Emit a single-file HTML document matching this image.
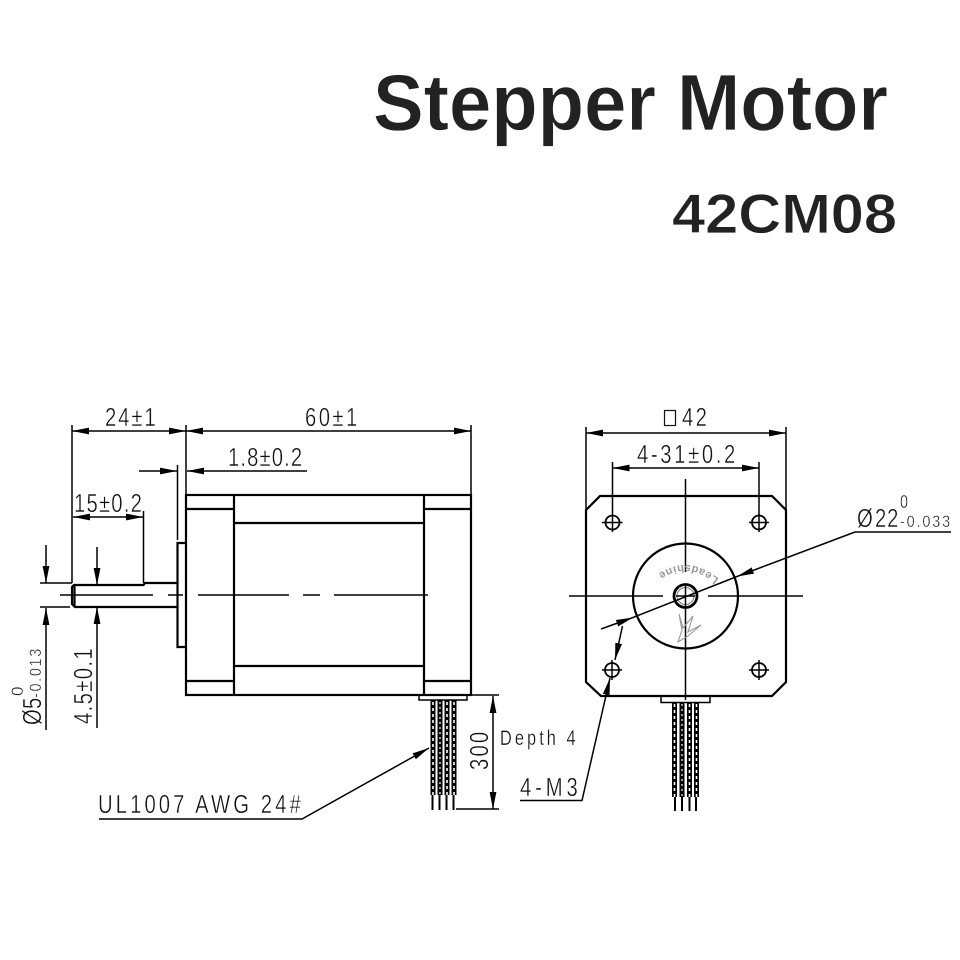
<!DOCTYPE html>
<html><head><meta charset="utf-8"><style>
html,body{margin:0;padding:0;background:#fff;width:960px;height:960px;overflow:hidden}
svg{display:block}
.t{font-family:"Liberation Sans",sans-serif;fill:#111;stroke:#fff;stroke-width:.4}
.h{font-family:"Liberation Sans",sans-serif;font-weight:bold;fill:#222;stroke:#fff;stroke-width:.7}
</style></head><body>
<svg width="960" height="960" viewBox="0 0 960 960" xmlns="http://www.w3.org/2000/svg">
<defs>
<marker id="a" markerUnits="userSpaceOnUse" markerWidth="18" markerHeight="8" refX="17" refY="4" orient="auto-start-reverse"><path d="M0,.6 L17,4 L0,7.400 Z" fill="#000"/></marker>
</defs>
<text class="h" x="373" y="130" font-size="80" textLength="515" lengthAdjust="spacingAndGlyphs">Stepper Motor</text>
<text class="h" x="672" y="233" font-size="56" textLength="225" lengthAdjust="spacingAndGlyphs">42CM08</text>

<!-- side view -->
<g fill="none" stroke="#000" stroke-width="2.200">
<rect x="186" y="495" width="285" height="200"/>
<path d="M234,495V695M424,495V695M186,509H234M424,509H471M234,523H424M234,666H424M186,681H234M424,681H471"/>
<path d="M186,543H177.500V647H186"/>
<path d="M177,583H145L143.500,585H74L72,587V604L75,607H177M74.500,585V607"/>
<rect x="419" y="695" width="48" height="5" stroke-width="1.500"/>
</g>
<g fill="none" stroke="#000" stroke-width="1.500">
<path d="M60,595H153M168,595H183M198,595H289M303,595H320M334,595H428"/>
<path d="M72,425V583M186,425V495M471,425V495M177.500,465V540M143.500,511V583M40,583H72M40,607H70M467,695H499M456,809H499"/>
<path d="M72,431H186" marker-start="url(#a)" marker-end="url(#a)"/>
<path d="M186,431H471" marker-start="url(#a)" marker-end="url(#a)"/>
<path d="M139,471H177" marker-end="url(#a)"/>
<path d="M307,471H187" marker-end="url(#a)"/>
<path d="M73,517H143" marker-start="url(#a)" marker-end="url(#a)"/>
<path d="M46,545V583" marker-end="url(#a)"/>
<path d="M46,730V608" marker-end="url(#a)"/>
<path d="M97,547V585" marker-end="url(#a)"/>
<path d="M97,728V607" marker-end="url(#a)"/>
<path d="M493,696V809" marker-start="url(#a)" marker-end="url(#a)"/>
<path d="M99,819H302L429,748" marker-end="url(#a)"/>
</g>
<!-- wires side -->
<g fill="none">
<path d="M433,700V795M440,700V795M447,700V795M454,700V795" stroke="#000" stroke-width="5"/>
<path d="M433,702V795M447,702V795M454,702V795" stroke="#fff" stroke-width="1.600" stroke-dasharray="3 3"/>
<path d="M440,702V795" stroke="#fff" stroke-width="1.200" stroke-dasharray="2 3"/>
<path d="M432.500,795V810M439.500,795V810M446.500,795V810M453.500,795V810" stroke="#000" stroke-width="2"/>
</g>

<!-- front view -->
<g fill="none" stroke="#000" stroke-width="2.200">
<path d="M600,496H772L786,510V682L772,696H601L586,682V510Z"/>
<circle cx="685.500" cy="596" r="52.500"/>
<circle cx="685.500" cy="596" r="11.500" stroke-width="2.800"/>
<circle cx="685.500" cy="596" r="8.500" stroke-width="1" stroke="#777"/>
<path d="M661,696V702.500H710V696" stroke-width="1.500"/>
<g stroke-width="1.800">
<circle cx="612.500" cy="522.500" r="7"/><circle cx="759" cy="522.500" r="7"/>
<circle cx="612" cy="670" r="7"/><circle cx="759" cy="670" r="7"/>
</g>
</g>
<g fill="none" stroke="#000" stroke-width="1.500">
<path d="M685.500,479V572M685.500,586V700M569,596H663M708,596H803M676,596H695"/>
<path d="M759,512V532M602,522.500H622.500M749,522.500H769M612.500,512V532M612,660V680M602,670H622M759,660V680M749,670H769"/>
<path d="M586,427V510M786,427V510M612.500,462V512M759,462V512"/>
<path d="M586,433H786" marker-start="url(#a)" marker-end="url(#a)"/>
<path d="M612.500,468H759" marker-start="url(#a)" marker-end="url(#a)"/>
<path d="M855,532H951"/>
<path d="M855,532L737,576.500" marker-end="url(#a)"/>
<path d="M601,629L633,617.500" marker-end="url(#a)"/>
<path d="M633,617.500L737,576.500"/>
<path d="M622.500,626L615,660" marker-end="url(#a)"/>
<path d="M520,800.500H582L610,678" marker-end="url(#a)"/>
</g>
<g fill="none">
<path d="M674.500,702V797M682,702V797M689.500,702V797M696.500,702V797" stroke="#000" stroke-width="5"/>
<path d="M674.500,704V797M689.500,704V797M696.500,704V797" stroke="#fff" stroke-width="1.600" stroke-dasharray="3 3"/>
<path d="M682,704V797" stroke="#fff" stroke-width="1.200" stroke-dasharray="2 3"/>
<path d="M675,797V811M682,797V811M689.500,797V811M696,797V811" stroke="#000" stroke-width="2"/>
</g>
<!-- logo -->
<path id="lg" d="M719,579 Q685,551 651,579" fill="none"/>
<text font-family="Liberation Sans,sans-serif" font-size="11" font-weight="bold" fill="#999"><textPath href="#lg" startOffset="0" textLength="66" lengthAdjust="spacing">Leadshine</textPath></text>
<path d="M679,614L683,628L693,616L688,632L701,625L688,636L678,642L682,630Z" fill="none" stroke="#999" stroke-width="1.100"/>

<!-- labels -->
<text class="t" transform="translate(105,426) scale(.78,1)" font-size="26" textLength="65" lengthAdjust="spacing">24±1</text>
<text class="t" transform="translate(305,426) scale(.78,1)" font-size="26" textLength="67" lengthAdjust="spacing">60±1</text>
<text class="t" transform="translate(228,466) scale(.78,1)" font-size="26" textLength="95" lengthAdjust="spacing">1.8±0.2</text>
<text class="t" transform="translate(74,512) scale(.78,1)" font-size="26" textLength="87" lengthAdjust="spacing">15±0.2</text>
<text class="t" transform="translate(41,725) rotate(-90) scale(.78,1)" font-size="26" textLength="35" lengthAdjust="spacing">Ø5</text>
<text class="t" transform="translate(41,698) rotate(-90) scale(.85,1)" font-size="17" textLength="58" lengthAdjust="spacing">-0.013</text>
<text class="t" transform="translate(23,696) rotate(-90)" font-size="17">0</text>
<text class="t" transform="translate(92,724) rotate(-90) scale(.78,1)" font-size="26" textLength="97" lengthAdjust="spacing">4.5±0.1</text>
<text class="t" transform="translate(488,770) rotate(-90) scale(.78,1)" font-size="26" textLength="49" lengthAdjust="spacing">300</text>
<text class="t" transform="translate(500,745) scale(.78,1)" font-size="21" textLength="97" lengthAdjust="spacing" style="stroke-width:.3">Depth 4</text>
<text class="t" transform="translate(98,813) scale(.78,1)" font-size="26" textLength="260" lengthAdjust="spacing">UL1007 AWG 24#</text>
<text class="t" transform="translate(520,796) scale(.78,1)" font-size="26" textLength="74" lengthAdjust="spacing">4-M3</text>
<rect x="664.500" y="410.500" width="11" height="15" fill="none" stroke="#111" stroke-width="1.200"/>
<text class="t" transform="translate(682,426) scale(.78,1)" font-size="26" textLength="32" lengthAdjust="spacing">42</text>
<text class="t" transform="translate(637,463) scale(.78,1)" font-size="26" textLength="126" lengthAdjust="spacing">4-31±0.2</text>
<text class="t" transform="translate(857,527) scale(.78,1)" font-size="26">Ø</text>
<text class="t" transform="translate(875,527) scale(.78,1)" font-size="26" textLength="30" lengthAdjust="spacing">22</text>
<text class="t" transform="translate(900,527) scale(.85,1)" font-size="17" textLength="59" lengthAdjust="spacing">-0.033</text>
<text class="t" x="900" y="508" font-size="18" textLength="8" lengthAdjust="spacingAndGlyphs">0</text>
</svg>
</body></html>
